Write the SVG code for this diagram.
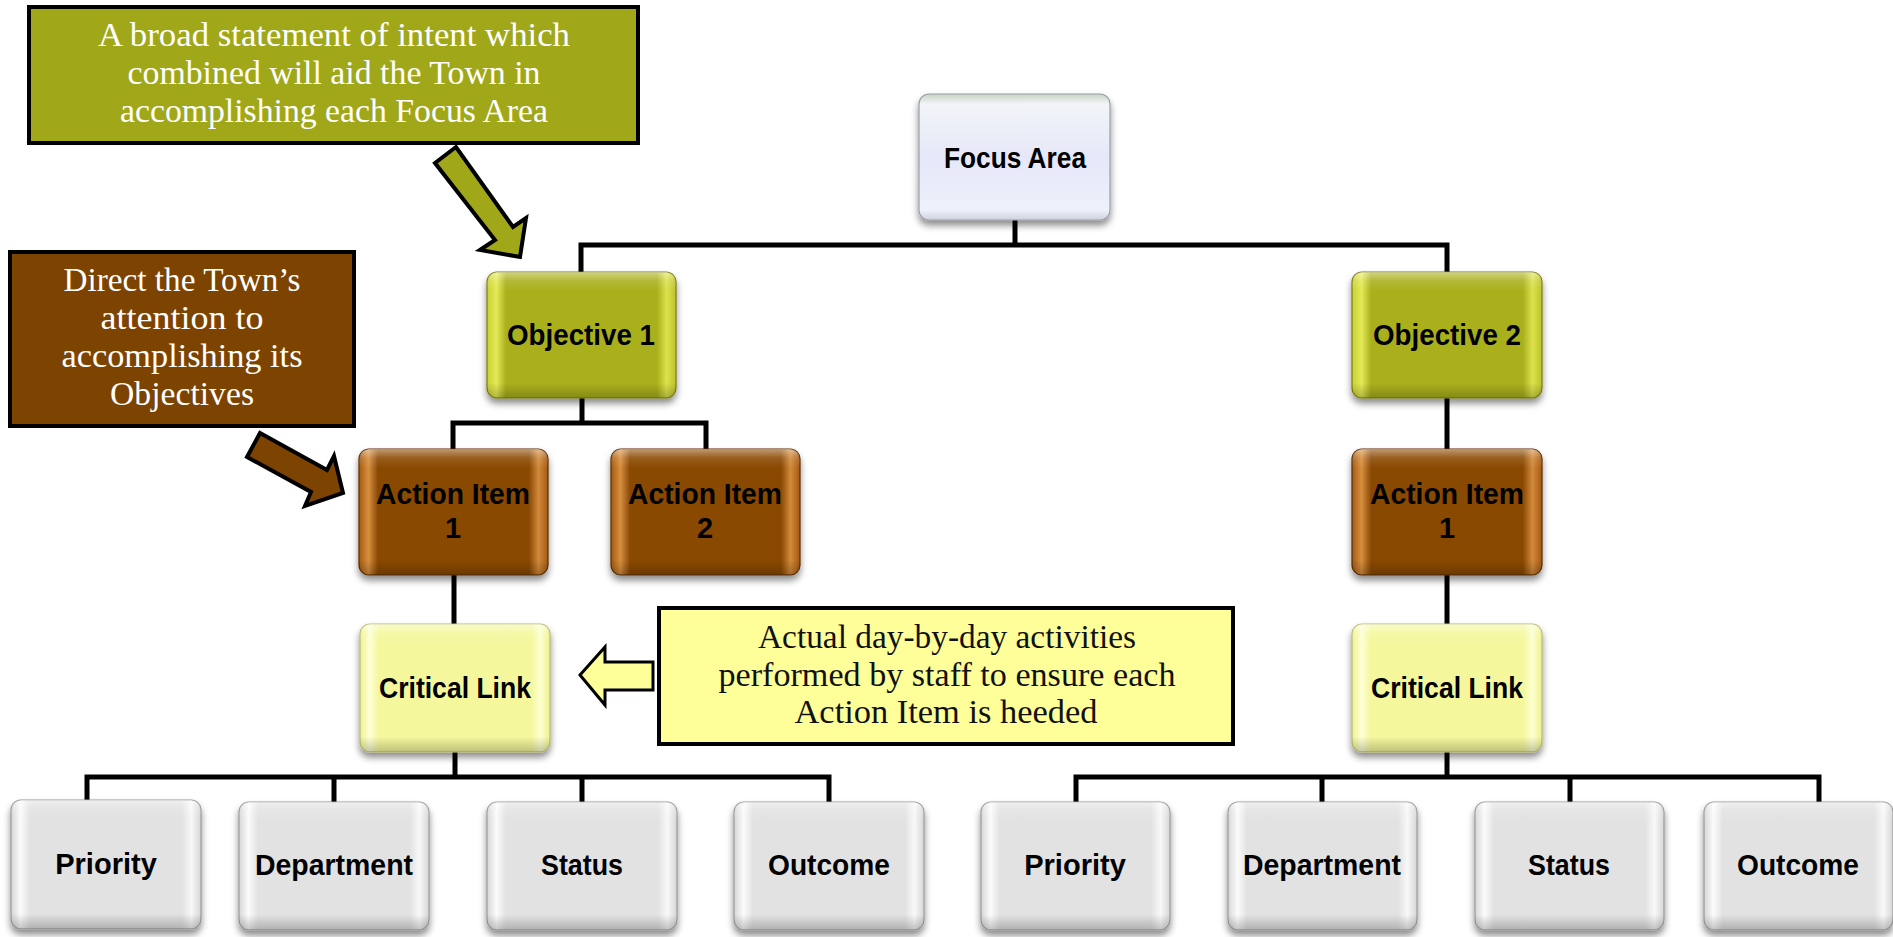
<svg xmlns="http://www.w3.org/2000/svg" width="1893" height="937" viewBox="0 0 1893 937">
<style>
.conn{stroke:#000;stroke-width:5;fill:none;stroke-linecap:square}
.lbl{font-family:"Liberation Sans",Arial,sans-serif;font-weight:bold;font-size:29px;fill:#000;text-anchor:middle}
.ct{font-family:"Liberation Serif","Times New Roman",serif;font-size:34px;text-anchor:middle}
.w{fill:#fff}
.k{fill:#111}
.box{stroke-width:1.2}
.gloss{fill:url(#vgl)}
</style>
<defs>
<filter id="sh" x="-10%" y="-10%" width="120%" height="130%">
<feDropShadow dx="0" dy="5" stdDeviation="3.5" flood-color="#000" flood-opacity="0.45"/>
</filter>
<linearGradient id="vgl" x1="0" y1="0" x2="0" y2="1">
<stop offset="0" stop-color="#fff" stop-opacity="0.45"/>
<stop offset="0.07" stop-color="#fff" stop-opacity="0.12"/>
<stop offset="0.15" stop-color="#fff" stop-opacity="0"/>
<stop offset="0.88" stop-color="#000" stop-opacity="0"/>
<stop offset="1" stop-color="#000" stop-opacity="0.22"/>
</linearGradient>
<linearGradient id="gOl" x1="0" y1="0" x2="1" y2="0">
<stop offset="0" stop-color="#c9cf34"/><stop offset="0.05" stop-color="#e4ea55"/><stop offset="0.1" stop-color="#aab01f"/>
<stop offset="0.9" stop-color="#aab01f"/><stop offset="0.95" stop-color="#dbe24b"/><stop offset="1" stop-color="#bcc22c"/>
</linearGradient>
<linearGradient id="gBr" x1="0" y1="0" x2="1" y2="0">
<stop offset="0" stop-color="#a35a12"/><stop offset="0.05" stop-color="#d88f3e"/><stop offset="0.1" stop-color="#8a4905"/>
<stop offset="0.9" stop-color="#8a4905"/><stop offset="0.95" stop-color="#d3893a"/><stop offset="1" stop-color="#a35a12"/>
</linearGradient>
<linearGradient id="gYe" x1="0" y1="0" x2="1" y2="0">
<stop offset="0" stop-color="#eef28c"/><stop offset="0.05" stop-color="#fdffd6"/><stop offset="0.1" stop-color="#f4f79c"/>
<stop offset="0.9" stop-color="#f4f79c"/><stop offset="0.95" stop-color="#fdffd0"/><stop offset="1" stop-color="#eef28c"/>
</linearGradient>
<linearGradient id="gGr" x1="0" y1="0" x2="1" y2="0">
<stop offset="0" stop-color="#d6d6d6"/><stop offset="0.05" stop-color="#fbfbfb"/><stop offset="0.1" stop-color="#e2e2e2"/>
<stop offset="0.9" stop-color="#e2e2e2"/><stop offset="0.95" stop-color="#f8f8f8"/><stop offset="1" stop-color="#d6d6d6"/>
</linearGradient>
<linearGradient id="gFo" x1="0" y1="0" x2="0" y2="1">
<stop offset="0" stop-color="#c9d3c2"/><stop offset="0.08" stop-color="#f2f4f8"/><stop offset="0.5" stop-color="#e6e8f9"/>
<stop offset="0.92" stop-color="#eef0fb"/><stop offset="1" stop-color="#cfd2dc"/>
</linearGradient>
</defs>
<rect width="1893" height="937" fill="#fff"/>

<g id="connectors">
<path class="conn" d="M1015 220 V245 M581 245 H1447 M581 245 V272 M1447 245 V272"/>
<path class="conn" d="M582 398 V423 M453 423 H706 M453 423 V449 M706 423 V449"/>
<path class="conn" d="M454 575 V624 M455 752 V777 M87 777 H829 M87 777 V800 M334 777 V802 M582 777 V802 M829 777 V802"/>
<path class="conn" d="M1447 398 V449 M1447 575 V624 M1447 752 V777 M1076 777 H1819 M1076 777 V802 M1322 777 V802 M1570 777 V802 M1819 777 V802"/>
</g>

<g id="callout-objective">
<rect x="29" y="7" width="609" height="136" fill="#a0a81a" stroke="#000" stroke-width="4"/>
<text class="ct w" x="334" y="46" textLength="472" lengthAdjust="spacingAndGlyphs">A broad statement of intent which</text>
<text class="ct w" x="334" y="84" textLength="413" lengthAdjust="spacingAndGlyphs">combined will aid the Town in</text>
<text class="ct w" x="334" y="122" textLength="428" lengthAdjust="spacingAndGlyphs">accomplishing each Focus Area</text>
</g>
<g id="arrow-objective">
<polygon points="435,163 456,147 513,227 526,218 520,257 480,250 495,240" fill="#a0a81a" stroke="#000" stroke-width="4" stroke-linejoin="miter"/>
</g>

<g id="callout-action">
<rect x="10" y="252" width="344" height="174" fill="#7d4300" stroke="#000" stroke-width="4"/>
<text class="ct w" x="182" y="291" textLength="237" lengthAdjust="spacingAndGlyphs">Direct the Town’s</text>
<text class="ct w" x="182" y="329" textLength="163" lengthAdjust="spacingAndGlyphs">attention to</text>
<text class="ct w" x="182" y="367" textLength="241" lengthAdjust="spacingAndGlyphs">accomplishing its</text>
<text class="ct w" x="182" y="405" textLength="144" lengthAdjust="spacingAndGlyphs">Objectives</text>
</g>
<g id="arrow-action">
<polygon points="260,433 247,457 311,492 305,506 343,493 334,456 327,470" fill="#7d4300" stroke="#000" stroke-width="4"/>
</g>

<g id="callout-critical">
<rect x="659" y="608" width="574" height="136" fill="#ffff99" stroke="#000" stroke-width="4"/>
<text class="ct k" x="947" y="648" textLength="378" lengthAdjust="spacingAndGlyphs">Actual day-by-day activities</text>
<text class="ct k" x="947" y="686" textLength="457" lengthAdjust="spacingAndGlyphs">performed by staff to ensure each</text>
<text class="ct k" x="946" y="723" textLength="303" lengthAdjust="spacingAndGlyphs">Action Item is heeded</text>
</g>
<g id="arrow-critical">
<polygon points="580,675 605,647 605,662 653,662 653,690 605,690 605,705" fill="#ffff99" stroke="#000" stroke-width="3"/>
</g>

<g id="focus-area">
<rect x="919" y="94" width="191" height="126" rx="10" fill="url(#gFo)" stroke="#9a9ea8" class="box" filter="url(#sh)"/>
<text class="lbl" x="1015" y="168" textLength="142" lengthAdjust="spacingAndGlyphs">Focus Area</text>
</g>

<g id="objective-1">
<rect x="487" y="272" width="189" height="126" rx="10" fill="url(#gOl)" stroke="#7a7e10" class="box" filter="url(#sh)"/>
<rect x="487" y="272" width="189" height="126" rx="10" class="gloss"/>
<text class="lbl" x="581" y="345" textLength="148" lengthAdjust="spacingAndGlyphs">Objective 1</text>
</g>
<g id="objective-2">
<rect x="1352" y="272" width="190" height="126" rx="10" fill="url(#gOl)" stroke="#7a7e10" class="box" filter="url(#sh)"/>
<rect x="1352" y="272" width="190" height="126" rx="10" class="gloss"/>
<text class="lbl" x="1447" y="345" textLength="148" lengthAdjust="spacingAndGlyphs">Objective 2</text>
</g>

<g id="action-item-1a">
<rect x="359" y="449" width="189" height="126" rx="10" fill="url(#gBr)" stroke="#5a2e02" class="box" filter="url(#sh)"/>
<rect x="359" y="449" width="189" height="126" rx="10" class="gloss"/>
<text class="lbl" x="453" y="504" textLength="154" lengthAdjust="spacingAndGlyphs">Action Item</text>
<text class="lbl" x="453" y="538">1</text>
</g>
<g id="action-item-2">
<rect x="611" y="449" width="189" height="126" rx="10" fill="url(#gBr)" stroke="#5a2e02" class="box" filter="url(#sh)"/>
<rect x="611" y="449" width="189" height="126" rx="10" class="gloss"/>
<text class="lbl" x="705" y="504" textLength="154" lengthAdjust="spacingAndGlyphs">Action Item</text>
<text class="lbl" x="705" y="538">2</text>
</g>
<g id="action-item-1b">
<rect x="1352" y="449" width="190" height="126" rx="10" fill="url(#gBr)" stroke="#5a2e02" class="box" filter="url(#sh)"/>
<rect x="1352" y="449" width="190" height="126" rx="10" class="gloss"/>
<text class="lbl" x="1447" y="504" textLength="154" lengthAdjust="spacingAndGlyphs">Action Item</text>
<text class="lbl" x="1447" y="538">1</text>
</g>

<g id="critical-link-a">
<rect x="360" y="624" width="190" height="128" rx="10" fill="url(#gYe)" stroke="#b8bb70" class="box" filter="url(#sh)"/>
<rect x="360" y="624" width="190" height="128" rx="10" class="gloss"/>
<text class="lbl" x="455" y="698" textLength="152" lengthAdjust="spacingAndGlyphs">Critical Link</text>
</g>
<g id="critical-link-b">
<rect x="1352" y="624" width="190" height="128" rx="10" fill="url(#gYe)" stroke="#b8bb70" class="box" filter="url(#sh)"/>
<rect x="1352" y="624" width="190" height="128" rx="10" class="gloss"/>
<text class="lbl" x="1447" y="698" textLength="152" lengthAdjust="spacingAndGlyphs">Critical Link</text>
</g>

<g id="priority-a">
<rect x="11" y="800" width="190" height="129" rx="10" fill="url(#gGr)" stroke="#9a9a9a" class="box" filter="url(#sh)"/>
<rect x="11" y="800" width="190" height="129" rx="10" class="gloss"/>
<text class="lbl" x="106" y="874">Priority</text>
</g>
<g id="department-a">
<rect x="239" y="802" width="190" height="128" rx="10" fill="url(#gGr)" stroke="#9a9a9a" class="box" filter="url(#sh)"/>
<rect x="239" y="802" width="190" height="128" rx="10" class="gloss"/>
<text class="lbl" x="334" y="875" textLength="158" lengthAdjust="spacingAndGlyphs">Department</text>
</g>
<g id="status-a">
<rect x="487" y="802" width="190" height="128" rx="10" fill="url(#gGr)" stroke="#9a9a9a" class="box" filter="url(#sh)"/>
<rect x="487" y="802" width="190" height="128" rx="10" class="gloss"/>
<text class="lbl" x="582" y="875" textLength="82" lengthAdjust="spacingAndGlyphs">Status</text>
</g>
<g id="outcome-a">
<rect x="734" y="802" width="190" height="128" rx="10" fill="url(#gGr)" stroke="#9a9a9a" class="box" filter="url(#sh)"/>
<rect x="734" y="802" width="190" height="128" rx="10" class="gloss"/>
<text class="lbl" x="829" y="875" textLength="122" lengthAdjust="spacingAndGlyphs">Outcome</text>
</g>

<g id="priority-b">
<rect x="981" y="802" width="189" height="128" rx="10" fill="url(#gGr)" stroke="#9a9a9a" class="box" filter="url(#sh)"/>
<rect x="981" y="802" width="189" height="128" rx="10" class="gloss"/>
<text class="lbl" x="1075" y="875">Priority</text>
</g>
<g id="department-b">
<rect x="1228" y="802" width="189" height="128" rx="10" fill="url(#gGr)" stroke="#9a9a9a" class="box" filter="url(#sh)"/>
<rect x="1228" y="802" width="189" height="128" rx="10" class="gloss"/>
<text class="lbl" x="1322" y="875" textLength="158" lengthAdjust="spacingAndGlyphs">Department</text>
</g>
<g id="status-b">
<rect x="1475" y="802" width="189" height="128" rx="10" fill="url(#gGr)" stroke="#9a9a9a" class="box" filter="url(#sh)"/>
<rect x="1475" y="802" width="189" height="128" rx="10" class="gloss"/>
<text class="lbl" x="1569" y="875" textLength="82" lengthAdjust="spacingAndGlyphs">Status</text>
</g>
<g id="outcome-b">
<rect x="1704" y="802" width="189" height="128" rx="10" fill="url(#gGr)" stroke="#9a9a9a" class="box" filter="url(#sh)"/>
<rect x="1704" y="802" width="189" height="128" rx="10" class="gloss"/>
<text class="lbl" x="1798" y="875" textLength="122" lengthAdjust="spacingAndGlyphs">Outcome</text>
</g>
</svg>
